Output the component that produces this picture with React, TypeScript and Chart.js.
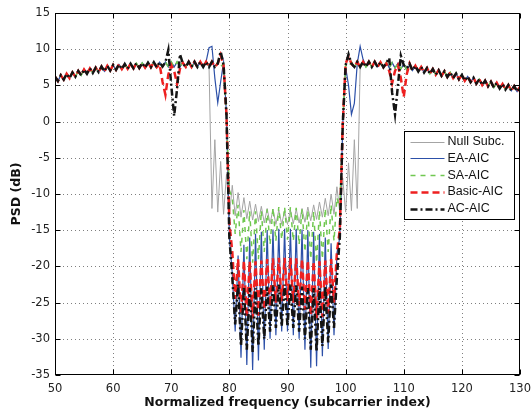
import React, { useEffect, useRef } from "react";
import { Chart, registerables } from "chart.js";
Chart.register(...registerables);

// ---- grid of the sampled spectrum (subcarrier index) ----
const X_START = 50;
const X_STEP = 0.5;
const X_TICKS = [50, 60, 70, 80, 90, 100, 110, 120, 130];
const Y_TICKS = [15, 10, 5, 0, -5, -10, -15, -20, -25, -30, -35];
const SERIES_NAMES = ["Null Subc.", "EA-AIC", "SA-AIC", "Basic-AIC", "AC-AIC"];

// ---- out-of-band segments (PSD dB), shared by all schemes ----
// 50.0 .. 67.5
const farLeft = [6.2, 5.6, 6.4, 5.8, 6.6, 6.0, 6.8, 6.2, 7.0, 6.4, 7.2, 6.6, 7.35, 6.7, 7.45, 6.85, 7.6, 6.95, 7.7, 7.05,
  7.8, 7.15, 7.9, 7.25, 7.95, 7.3, 8.0, 7.35, 8.05, 7.4, 8.1, 7.45, 8.15, 7.5, 8.2, 7.5];
// 68.0 .. 72.0
const nearLeft = [8.2, 7.55, 8.25, 7.55, 8.25, 7.55, 8.25, 7.55, 8.25];
const basicNearLeft = [7.9, 5.5, 3.7, 6.5, 7.8, 7.0, 5.2, 7.3, 8.1];
const acNearLeft = [8.2, 7.6, 8.2, 9.9, 5.0, 0.8, 4.5, 9.3, 8.0];
// 72.5 .. 75.5
const shoulderLeft = [7.55, 8.25, 7.55, 8.25, 7.55, 8.25, 7.55];
// 104.0 .. 106.5
const shoulderRight = [8.25, 7.55, 8.25, 7.55, 8.2, 7.5];
// 107.0 .. 111.0
const nearRight = [8.2, 7.45, 8.15, 7.4, 8.05, 7.3, 7.9, 7.15, 7.8];
const basicNearRight = [8.0, 7.0, 5.3, 7.0, 7.8, 6.0, 3.4, 6.5, 8.0];
const acNearRight = [8.1, 8.8, 4.0, 1.0, 5.0, 9.1, 7.8, 7.35, 8.0];
// 111.5 .. 130.0
const farRight = [7.05, 7.7, 6.92, 7.55, 6.77, 7.4, 6.62, 7.25, 6.47, 7.1, 6.32, 6.95, 6.17, 6.8, 6.02, 6.65, 5.85, 6.45,
  5.65, 6.25, 5.45, 6.05, 5.25, 5.85, 5.05, 5.65, 4.87, 5.5, 4.72, 5.35, 4.57, 5.2, 4.42, 5.05, 4.27, 4.9, 4.15, 4.8];

// ---- notch region 76.0 .. 103.5, one per scheme ----
const nullMid = [8.25, 7.5, -12.0, -2.5, -12.5, -5.5, -12.8, -7.3, -13.0, -8.8, -13.0, -9.8, -13.2, -10.5, -13.4, -11.0,
  -13.6, -11.4, -13.8, -11.7, -14.0, -12.0, -14.1, -12.1, -14.2, -12.2, -14.2, -12.3, -14.2, -12.2, -14.1, -12.1,
  -14.0, -12.0, -13.9, -11.8, -13.7, -11.5, -13.5, -11.1, -13.2, -10.6, -13.0, -10.0, -12.8, -9.0, -12.6, -7.8,
  -12.5, -5.7, -12.3, -2.5, -12.0, 7.6, 8.25, 7.55];
const eaMid = [8.3, 10.2, 10.4, 6.0, 2.6, 5.5, 8.2, 1.0, -16.0, -21.0, -29.0, -18.5, -32.6, -17.0, -33.6, -16.0,
  -34.3, -15.5, -33.0, -15.2, -31.5, -15.0, -30.0, -14.9, -29.5, -14.8, -29.0, -14.8, -29.0, -14.8, -29.5, -14.8,
  -30.0, -14.9, -31.5, -15.0, -34.0, -15.2, -33.8, -15.5, -32.4, -16.0, -31.4, -16.8, -29.5, -18.2, -16.0, -0.5,
  7.5, 5.0, 1.0, 2.5, 8.0, 10.4, 8.6, 7.6];
const saMid = [8.25, 7.55, 8.25, 7.55, 8.2, 7.6, 8.0, 0.5, -9.5, -10.5, -15.5, -11.5, -18.0, -12.2, -19.0, -12.4,
  -19.5, -12.4, -19.0, -12.3, -18.0, -12.1, -17.0, -11.9, -16.5, -11.8, -16.3, -11.8, -16.3, -11.8, -16.5, -11.9,
  -17.0, -12.1, -18.0, -12.3, -19.0, -12.4, -19.5, -12.3, -19.0, -12.0, -18.0, -11.5, -16.5, -10.5, -12.0, 0.0,
  7.8, 7.55, 8.25, 7.55, 8.25, 7.55, 8.25, 7.55];
const basicMid = [8.25, 7.55, 8.25, 7.55, 8.0, 9.2, 7.8, 1.0, -14.0, -18.0, -24.5, -19.0, -26.5, -19.2, -27.0, -19.3,
  -27.2, -19.3, -26.8, -19.2, -26.0, -19.0, -25.5, -18.9, -25.0, -18.8, -24.8, -18.8, -24.8, -18.8, -25.0, -18.9,
  -25.5, -19.0, -26.0, -19.2, -26.8, -19.3, -27.2, -19.3, -27.0, -19.2, -26.5, -19.0, -25.0, -18.0, -15.0, -0.5,
  8.0, 9.0, 8.0, 7.55, 8.25, 7.55, 8.25, 7.55];
const acMid = [8.25, 7.55, 8.25, 7.55, 8.0, 9.7, 7.8, 1.0, -16.0, -21.5, -28.0, -22.5, -31.0, -22.8, -31.5, -23.0,
  -31.8, -23.0, -31.0, -23.0, -30.0, -22.8, -29.0, -22.6, -28.5, -22.5, -28.3, -22.5, -28.3, -22.5, -28.5, -22.6,
  -29.0, -22.8, -30.0, -23.0, -31.5, -23.0, -31.8, -23.0, -31.0, -22.8, -30.5, -22.5, -28.5, -21.5, -16.0, -0.5,
  7.8, 9.3, 8.0, 7.55, 8.25, 7.55, 8.25, 7.55];

const nullSubc = [...farLeft, ...nearLeft, ...shoulderLeft, ...nullMid, ...shoulderRight, ...nearRight, ...farRight];
const eaAic = [...farLeft, ...nearLeft, ...shoulderLeft, ...eaMid, ...shoulderRight, ...nearRight, ...farRight];
const saAic = [...farLeft, ...nearLeft, ...shoulderLeft, ...saMid, ...shoulderRight, ...nearRight, ...farRight];
const basicAic = [...farLeft, ...basicNearLeft, ...shoulderLeft, ...basicMid, ...shoulderRight, ...basicNearRight, ...farRight];
const acAic = [...farLeft, ...acNearLeft, ...shoulderLeft, ...acMid, ...shoulderRight, ...acNearRight, ...farRight];
const SERIES = [nullSubc, eaAic, saAic, basicAic, acAic];

const STYLES = [
  { color: "#a4a4a4", width: 1, dash: [] as number[] },
  { color: "#2c50a8", width: 1.2, dash: [] as number[] },
  { color: "#70c850", width: 1.5, dash: [5, 5] },
  { color: "#ee2020", width: 2.5, dash: [7, 4] },
  { color: "#141414", width: 2.5, dash: [7, 3, 2, 3] },
];

const TICK_FONT = { family: "DejaVu Sans", size: 11.5 };
const TITLE_FONT = { family: "DejaVu Sans", size: 12.5, weight: "bold" as const };

const toPoints = (ys: number[]) => ys.map((y, i) => ({ x: X_START + i * X_STEP, y }));

const framePlugin = {
  id: "matlabFrame",
  beforeDatasetsDraw(chart: any) {
    const { ctx, chartArea: a, scales } = chart;
    ctx.save();
    ctx.strokeStyle = "rgba(0,0,0,0.5)";
    ctx.lineWidth = 1;
    ctx.setLineDash([1, 3]);
    X_TICKS.slice(1, -1).forEach((v) => {
      const px = Math.round(scales.x.getPixelForValue(v)) + 0.5;
      ctx.beginPath();
      ctx.moveTo(px, a.top);
      ctx.lineTo(px, a.bottom);
      ctx.stroke();
    });
    Y_TICKS.slice(1, -1).forEach((v) => {
      const py = Math.round(scales.y.getPixelForValue(v)) + 0.5;
      ctx.beginPath();
      ctx.moveTo(a.left, py);
      ctx.lineTo(a.right, py);
      ctx.stroke();
    });
    ctx.restore();
  },
  afterDatasetsDraw(chart: any) {
    const { ctx, chartArea: a, scales } = chart;
    ctx.save();
    ctx.strokeStyle = "#000";
    ctx.lineWidth = 1;
    ctx.setLineDash([]);
    const L = Math.round(a.left) + 0.5, R = Math.round(a.right) - 0.5;
    const T = Math.round(a.top) + 0.5, B = Math.round(a.bottom) - 0.5;
    ctx.strokeRect(L, T, R - L, B - T);
    const tl = 5;
    X_TICKS.forEach((v) => {
      const px = Math.round(scales.x.getPixelForValue(v)) + 0.5;
      ctx.beginPath();
      ctx.moveTo(px, B); ctx.lineTo(px, B - tl);
      ctx.moveTo(px, T); ctx.lineTo(px, T + tl);
      ctx.stroke();
    });
    Y_TICKS.forEach((v) => {
      const py = Math.round(scales.y.getPixelForValue(v)) + 0.5;
      ctx.beginPath();
      ctx.moveTo(L, py); ctx.lineTo(L + tl, py);
      ctx.moveTo(R, py); ctx.lineTo(R - tl, py);
      ctx.stroke();
    });
    // legend box
    const bw = 110, bh = 88;
    const bx = Math.round(a.right) - 6 - bw + 0.5;
    const by = Math.round(a.top) + 118 + 0.5;
    ctx.fillStyle = "#fff";
    ctx.fillRect(bx, by, bw, bh);
    ctx.strokeRect(bx, by, bw, bh);
    ctx.font = "12.5px 'Liberation Sans'";
    ctx.textBaseline = "middle";
    ctx.textAlign = "left";
    SERIES_NAMES.forEach((name, i) => {
      const st = STYLES[i];
      const y = by + 10 + i * 16.8;
      ctx.save();
      ctx.strokeStyle = st.color;
      ctx.lineWidth = st.width;
      ctx.setLineDash(st.dash);
      ctx.beginPath();
      ctx.moveTo(bx + 6, Math.round(y) + 0.5);
      ctx.lineTo(bx + 40, Math.round(y) + 0.5);
      ctx.stroke();
      ctx.restore();
      ctx.fillStyle = "#111";
      ctx.fillText(name, bx + 43, y);
    });
    ctx.restore();
  },
};

export default function App() {
  const ref = useRef<HTMLCanvasElement>(null);
  useEffect(() => {
    if (!ref.current) return;
    const chart = new Chart(ref.current, {
      type: "line",
      data: {
        datasets: SERIES.map((ys, i) => ({
          label: SERIES_NAMES[i],
          data: toPoints(ys),
          borderColor: STYLES[i].color,
          borderWidth: STYLES[i].width,
          borderDash: STYLES[i].dash,
          pointRadius: 0,
          fill: false,
          tension: 0,
          order: SERIES.length - i,
        })),
      },
      options: {
        responsive: false,
        animation: false,
        devicePixelRatio: 1,
        layout: { padding: { left: 0, right: 11, top: 13, bottom: 0 } },
        plugins: { legend: { display: false }, tooltip: { enabled: false } },
        scales: {
          x: {
            type: "linear",
            min: 50,
            max: 130,
            afterBuildTicks: (s: any) => { s.ticks = X_TICKS.map((v) => ({ value: v })); },
            afterFit: (s: any) => { s.height = 37; s.paddingLeft = 0; s.paddingRight = 0; },
            ticks: { font: TICK_FONT, color: "#222", padding: 7, maxRotation: 0, autoSkip: false },
            grid: { display: false, drawTicks: false },
            border: { display: false },
            title: { display: true, text: "Normalized frequency (subcarrier index)", font: TITLE_FONT, color: "#111", padding: { top: 0, bottom: 2 } },
          },
          y: {
            type: "linear",
            min: -35,
            max: 15,
            afterBuildTicks: (s: any) => { s.ticks = Y_TICKS.map((v) => ({ value: v })); },
            afterFit: (s: any) => { s.width = 55; s.paddingTop = 0; s.paddingBottom = 0; },
            ticks: { font: TICK_FONT, color: "#222", padding: 5, autoSkip: false },
            grid: { display: false, drawTicks: false },
            border: { display: false },
            title: { display: true, text: "PSD (dB)", font: TITLE_FONT, color: "#111", padding: { top: 9, bottom: 0 } },
          },
        },
      },
      plugins: [framePlugin],
    } as any);
    return () => chart.destroy();
  }, []);
  return (
    <div style={{ position: "absolute", left: 0, top: 0, width: 531, height: 412, background: "#fff" }}>
      <canvas ref={ref} width={531} height={412} style={{ display: "block", width: 531, height: 412 }} />
    </div>
  );
}
